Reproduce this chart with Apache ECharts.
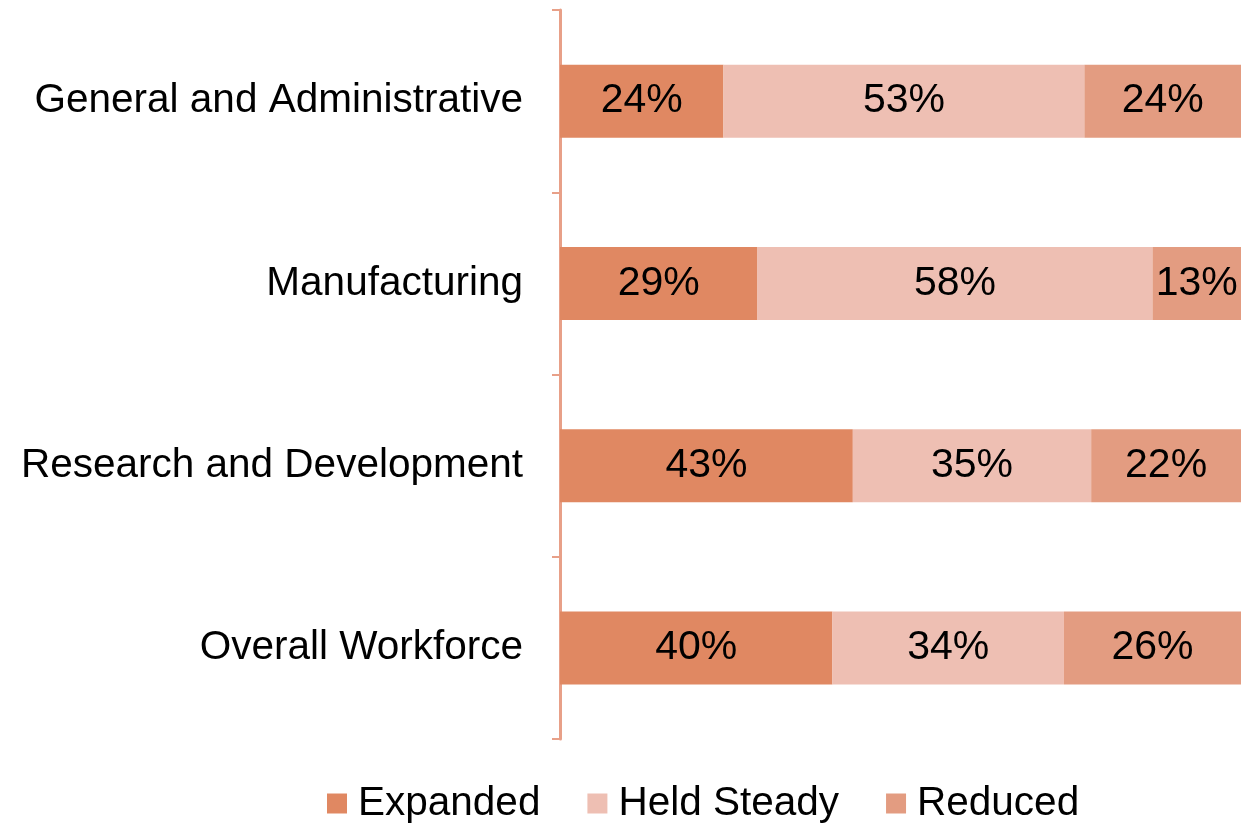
<!DOCTYPE html>
<html lang="en">
<head>
    <meta charset="UTF-8">
    <title>Workforce Changes</title>
    <style>
        html, body { margin: 0; padding: 0; background: #fff; }
        #chartContainer { width: 1241px; height: 825px; }
    </style>
    <script src="https://cdnjs.cloudflare.com/ajax/libs/echarts/6.0.0/echarts.min.js"></script>
</head>
<body>
    <div id="chartContainer"></div>
    <script>
        const categories = ['General and Administrative', 'Manufacturing', 'Research and Development', 'Overall Workforce'];
        const expanded = [24, 29, 43, 40];
        const heldSteady = [53, 58, 35, 34];
        const reduced = [24, 13, 22, 26];

        const colors = ['#E08862', '#EEBFB3', '#E39C81'];
        const font = 'Liberation Sans, Arial, sans-serif';

        function barSeries(name, values, color) {
            return {
                name: name,
                type: 'bar',
                stack: 'total',
                barWidth: 73,
                data: values,
                itemStyle: { color: color },
                label: {
                    show: true,
                    position: 'inside',
                    formatter: p => p.value + '%',
                    color: '#000',
                    fontFamily: font,
                    fontSize: 41
                }
            };
        }

        const chart = echarts.init(document.getElementById('chartContainer'));
        chart.setOption({
            animation: false,
            grid: { left: 560, right: 0, top: 10, bottom: 86, containLabel: false },
            xAxis: {
                type: 'value',
                min: 0,
                max: 100,
                show: false
            },
            yAxis: {
                type: 'category',
                data: categories,
                inverse: true,
                axisLine: { show: true, lineStyle: { color: '#E8A088', width: 3 } },
                axisTick: { show: true, length: 8, lineStyle: { color: '#E8A088', width: 2 } },
                axisLabel: { color: '#000', fontFamily: font, fontSize: 40.5, margin: 37 }
            },
            legend: {
                bottom: -4,
                left: 322,
                itemWidth: 20,
                itemHeight: 20,
                itemGap: 47,
                icon: 'rect',
                textStyle: { color: '#000', fontFamily: font, fontSize: 40.5, padding: [0, 0, 0, 6] },
                data: ['Expanded', 'Held Steady', 'Reduced']
            },
            series: [
                barSeries('Expanded', expanded, colors[0]),
                barSeries('Held Steady', heldSteady, colors[1]),
                barSeries('Reduced', reduced, colors[2])
            ]
        });
    </script>
</body>
</html>
